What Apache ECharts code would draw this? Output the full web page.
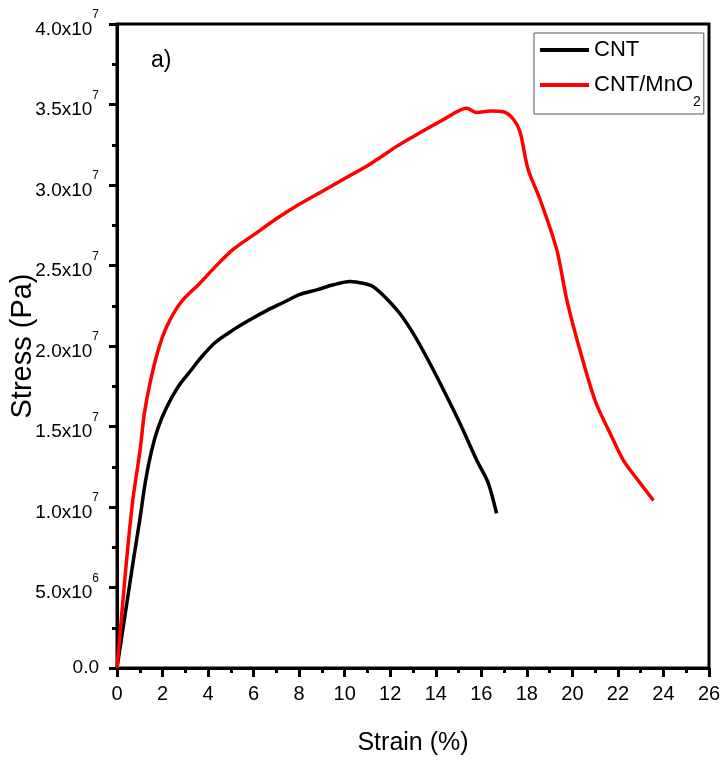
<!DOCTYPE html>
<html>
<head>
<meta charset="utf-8">
<title>Stress-strain</title>
<script src="https://cdn.jsdelivr.net/npm/echarts@6/dist/echarts.min.js"></script>
<style>
  html, body { margin: 0; padding: 0; background: #fff; }
  #chart { width: 724px; height: 763px; }
</style>
</head>
<body>
<div id="chart"></div>
<script>
// strain (%) / stress (x10^6 Pa)
var cntStrain = [0, 0.3, 0.72, 1.0, 1.25, 1.52, 1.8, 2.18, 2.7, 3.2, 3.64, 4.3, 5.1, 5.8, 6.57, 7.3, 8.04, 8.8, 9.5, 10.23, 10.8, 11.24, 11.8, 12.43, 13.0, 13.6, 14.33, 15.06, 15.8, 16.3, 16.67];
var cntStress = [0, 2.8, 6.7, 9.2, 11.6, 13.5, 14.9, 16.2, 17.5, 18.4, 19.2, 20.2, 21.0, 21.6, 22.2, 22.7, 23.2, 23.5, 23.8, 24.0, 23.9, 23.7, 23.0, 22.0, 20.8, 19.3, 17.3, 15.2, 12.9, 11.5, 9.6];

var mnStrain = [0, 0.2, 0.42, 0.7, 1.01, 1.2, 1.45, 1.8, 2.18, 2.8, 3.64, 4.3, 5.1, 6.0, 7.0, 8.0, 9.0, 10.0, 11.0, 11.55, 12.28, 13.0, 13.75, 14.5, 15.0, 15.36, 15.8, 16.4, 16.97, 17.4, 17.7, 18.05, 18.58, 19.31, 19.75, 20.3, 21.0, 21.65, 22.24, 22.97, 23.56];
var mnStress = [0, 3.2, 6.7, 10.5, 13.5, 15.8, 17.7, 19.7, 21.2, 22.7, 23.9, 24.9, 26.0, 26.9, 27.9, 28.8, 29.6, 30.4, 31.2, 31.7, 32.4, 33.0, 33.6, 34.2, 34.6, 34.76, 34.5, 34.6, 34.55, 34.1, 33.3, 31.0, 29.1, 26.0, 22.9, 19.9, 16.6, 14.6, 12.9, 11.5, 10.4];

var seriesNames = ['CNT', 'CNT/MnO2'];
var xTicks = [0, 2, 4, 6, 8, 10, 12, 14, 16, 18, 20, 22, 24, 26];

var sans = "'Liberation Sans', Arial, sans-serif";

function pairs(xs, ys) {
  var out = [];
  for (var i = 0; i < xs.length; i++) out.push([xs[i], ys[i] * 1e6]);
  return out;
}

// 4.0x10^7 style labels
function sciLabel(v) {
  if (v === 0) return '0.0';
  var e = Math.floor(Math.log10(v));
  var m = (v / Math.pow(10, e)).toFixed(1);
  return '{b|' + m + 'x10}{s|' + e + '}';
}

var chart = echarts.init(document.getElementById('chart'));
var option = {
  animation: false,
  backgroundColor: '#fff',
  textStyle: { fontFamily: sans, color: '#000' },
  grid: {
    left: 117, right: 15, top: 24, bottom: 95,
    outerBoundsMode: 'none',
    containLabel: false,
    show: true, borderColor: '#000', borderWidth: 3
  },
  legend: {
    data: seriesNames,
    orient: 'vertical',
    left: 534, top: 33,
    padding: [6, 3, 5, 6],
    itemGap: 13,
    itemWidth: 49, itemHeight: 4,
    icon: 'rect',
    borderColor: '#555', borderWidth: 1,
    textStyle: {
      fontFamily: sans, fontSize: 22, color: '#000',
      rich: {
        t: { fontFamily: sans, fontSize: 22, color: '#000' },
        u: { fontFamily: sans, fontSize: 14, color: '#000', padding: [34, 0, 0, 0] }
      }
    },
    formatter: function (name) {
      if (name === 'CNT/MnO2') return '{t|CNT/MnO}{u|2}';
      return '{t|' + name + '}';
    }
  },
  graphic: [{
    type: 'text', left: 151, top: 49,
    style: { text: 'a)', font: '23px ' + sans, fill: '#000' }
  }],
  xAxis: {
    type: 'value',
    min: 0, max: 26, interval: 2,
    name: 'Strain (%)',
    nameLocation: 'middle',
    nameGap: 63,
    nameMoveOverlap: false,
    nameTextStyle: { fontFamily: sans, fontSize: 25, color: '#000' },
    axisLine: { show: true, onZero: false, lineStyle: { color: '#000', width: 3 } },
    axisTick: { show: true, length: 9, lineStyle: { color: '#000', width: 3 } },
    minorTick: { show: true, splitNumber: 2, length: 5, lineStyle: { color: '#000', width: 3 } },
    splitLine: { show: false },
    axisLabel: {
      margin: 16, fontFamily: sans, fontSize: 20, color: '#000',
      customValues: xTicks
    }
  },
  yAxis: {
    type: 'value',
    min: 0, max: 4e7, interval: 5e6,
    name: 'Stress (Pa)',
    nameLocation: 'middle',
    nameGap: 80,
    nameMoveOverlap: false,
    nameTextStyle: { fontFamily: sans, fontSize: 29, color: '#000' },
    axisLine: { show: true, onZero: false, lineStyle: { color: '#000', width: 3 } },
    axisTick: { show: true, length: 8, lineStyle: { color: '#000', width: 3 } },
    minorTick: { show: true, splitNumber: 2, length: 5, lineStyle: { color: '#000', width: 3 } },
    splitLine: { show: false },
    axisLabel: {
      margin: 18, fontFamily: sans, fontSize: 19, color: '#000',
      formatter: sciLabel,
      rich: {
        b: { fontFamily: sans, fontSize: 19, color: '#000', padding: [11, 0, 0, 0] },
        s: { fontFamily: sans, fontSize: 12, color: '#000', padding: [0, 0, 18, 0] }
      }
    }
  },
  series: [
    {
      name: seriesNames[0], type: 'line',
      data: pairs(cntStrain, cntStress),
      showSymbol: false, smooth: 0.3,
      lineStyle: { color: '#000', width: 3.5 },
      itemStyle: { color: '#000' }
    },
    {
      name: seriesNames[1], type: 'line',
      data: pairs(mnStrain, mnStress),
      showSymbol: false, smooth: 0.3,
      lineStyle: { color: '#ff0000', width: 3.5 },
      itemStyle: { color: '#ff0000' }
    }
  ]
};
chart.setOption(option);
</script>
</body>
</html>
